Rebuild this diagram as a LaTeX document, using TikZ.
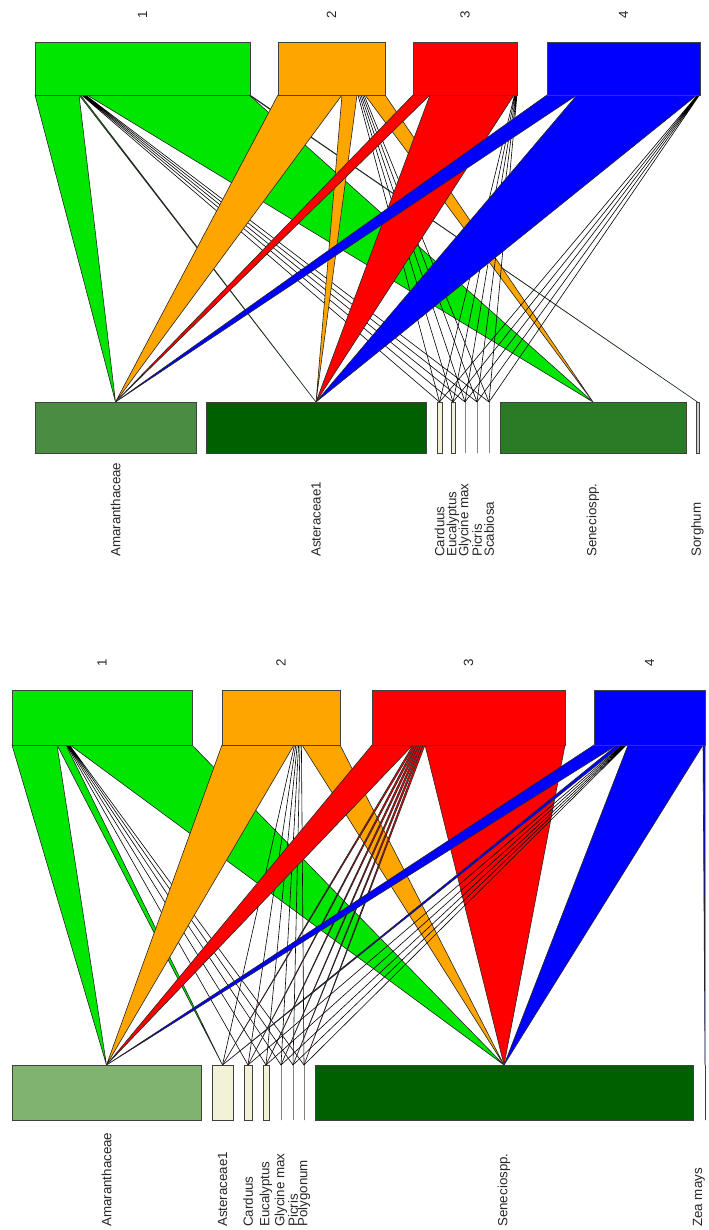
\documentclass[tikz,border=0pt]{standalone}
\usepackage{fontspec}
\setmainfont{Liberation Sans}
\usetikzlibrary{positioning,calc,backgrounds}

\definecolor{lgreen}{RGB}{0,230,0}
\definecolor{lorange}{RGB}{255,165,0}
\definecolor{lred}{RGB}{255,0,0}
\definecolor{lblue}{RGB}{0,0,255}
\definecolor{amarA}{RGB}{74,140,66}
\definecolor{asterA}{RGB}{0,96,0}
\definecolor{senA}{RGB}{42,122,38}
\definecolor{amarB}{RGB}{128,178,112}
\definecolor{paleB}{RGB}{242,242,214}
\definecolor{senB}{RGB}{0,96,0}

\tikzset{
    boxline/.style={draw=black!75, line width=0.5pt},
    band/.style={draw=black!85, line width=0.45pt},
    wire/.style={draw=black, line width=0.45pt},
    lab/.style={font=\fontsize{10}{12}\selectfont, text=black!85, inner sep=0pt, rotate=90},
}

\newcommand{\webbox}[6]{%
    \filldraw[boxline, fill=#6] (#2,#4) rectangle (#3,#5);
    \coordinate (#1) at ({(#2+#3)/2},#4);}
\newcommand{\weblink}[5]{%
    \filldraw[band, fill=#1] (#2,#4) -- (#3,#4) -- (#5) -- cycle;}

\begin{document}
\begin{tikzpicture}[x=0.75pt,y=-0.75pt]
    \useasboundingbox (0,0) rectangle (708,1230);

    \webbox{uA}{35}{250}{42}{95}{lgreen}
    \webbox{uB}{278}{385}{42}{95}{lorange}
    \webbox{uC}{413}{517}{42}{95}{lred}
    \webbox{uD}{547}{700}{42}{95}{lblue}

    \webbox{tAmar}{35}{196}{402}{453}{amarA}
    \webbox{tAster}{206}{426}{402}{453}{asterA}
    \webbox{tCard}{437}{442}{402}{453}{paleB}
    \webbox{tEuc}{451}{455}{402}{453}{paleB}
    \webbox{tGly}{465}{465}{402}{453}{paleB}
    \webbox{tPic}{477}{477}{402}{453}{paleB}
    \webbox{tScab}{489}{489}{402}{453}{paleB}
    \webbox{tSen}{500}{686}{402}{453}{senA}
    \webbox{tSorg}{696}{699}{402}{453}{gray!40}

    \webbox{vA}{12}{192}{690}{745}{lgreen}
    \webbox{vB}{222}{340}{690}{745}{lorange}
    \webbox{vC}{372}{565}{690}{745}{lred}
    \webbox{vD}{594}{705}{690}{745}{lblue}

    \webbox{bAmar}{12}{201}{1065}{1120}{amarB}
    \webbox{bAster}{212}{233}{1065}{1120}{paleB}
    \webbox{bCard}{244}{252}{1065}{1120}{paleB}
    \webbox{bEuc}{263}{269}{1065}{1120}{paleB}
    \webbox{bGly}{281}{281}{1065}{1120}{paleB}
    \webbox{bPic}{293}{293}{1065}{1120}{paleB}
    \webbox{bPoly}{304}{304}{1065}{1120}{paleB}
    \webbox{bSen}{315}{693}{1065}{1120}{senB}
    \webbox{bZea}{705}{705}{1065}{1120}{paleB}

    \node[lab] (nA) at (142.5,15) {1};
    \node[lab] (nB) at (331.5,15) {2};
    \node[lab] (nC) at (465,15) {3};
    \node[lab] (nD) at (623.5,15) {4};
    \node[lab] (mA) at (102,663) {1};
    \node[lab] (mB) at (281,663) {2};
    \node[lab] (mC) at (468.5,663) {3};
    \node[lab] (mD) at (649.5,663) {4};

    \coordinate (tbase) at (0,557);
    \coordinate (bbase) at (0,1227);
    \node[lab, anchor=west] (lAmar) at (tAmar |- tbase) {Amaranthaceae};
    \node[lab, anchor=west] (lAster) at (tAster |- tbase) {Asteraceae1};
    \node[lab, anchor=west] (lCard) at (tCard |- tbase) {Carduus};
    \node[lab, anchor=west] (lEuc) at (tEuc |- tbase) {Eucalyptus};
    \node[lab, anchor=west] (lGly) at (tGly |- tbase) {Glycine max};
    \node[lab, anchor=west] (lPic) at (tPic |- tbase) {Picris};
    \node[lab, anchor=west] (lScab) at (tScab |- tbase) {Scabiosa};
    \node[lab, anchor=west] (lSen) at (tSen |- tbase) {Seneciospp.};
    \node[lab, anchor=west] (lSorg) at (tSorg |- tbase) {Sorghum};

    \node[lab, anchor=west] (kAmar) at (bAmar |- bbase) {Amaranthaceae};
    \node[lab, anchor=west] (kAster) at (bAster |- bbase) {Asteraceae1};
    \node[lab, anchor=west] (kCard) at (bCard |- bbase) {Carduus};
    \node[lab, anchor=west] (kEuc) at (bEuc |- bbase) {Eucalyptus};
    \node[lab, anchor=west] (kGly) at (bGly |- bbase) {Glycine max};
    \node[lab, anchor=west] (kPic) at (bPic |- bbase) {Picris};
    \node[lab, anchor=west] (kPoly) at (bPoly |- bbase) {Polygonum};
    \node[lab, anchor=west] (kSen) at (bSen |- bbase) {Seneciospp.};
    \node[lab, anchor=west] (kZea) at ($(bZea |- bbase)+(-6,0)$) {Zea mays};

    \begin{scope}[on background layer]
        \weblink{lgreen}{35}{79}{95}{tAmar}
        \weblink{lgreen}{79}{80.5}{95}{tAster}
        \draw[wire] (81.5,95) -- (tCard) (82.5,95) -- (tEuc) (83.5,95) -- (tGly) (84.5,95) -- (tPic) (85.5,95) -- (tScab);
        \weblink{lgreen}{87}{249}{95}{tSen}
        \weblink{lgreen}{249}{250}{95}{tSorg}

        \weblink{lorange}{278}{342}{95}{tAmar}
        \weblink{lorange}{342}{357}{95}{tAster}
        \draw[wire] (358,95) -- (tCard) (359.5,95) -- (tEuc) (361,95) -- (tGly) (362.5,95) -- (tPic) (364,95) -- (tScab);
        \weblink{lorange}{365}{385}{95}{tSen}

        \weblink{lred}{413}{430}{95}{tAmar}
        \weblink{lred}{430}{514}{95}{tAster}
        \draw[wire] (514.5,95) -- (tCard) (515.2,95) -- (tEuc) (516,95) -- (tGly) (516.6,95) -- (tPic) (517,95) -- (tScab);

        \weblink{lblue}{547}{577}{95}{tAmar}
        \weblink{lblue}{577}{697}{95}{tAster}
        \draw[wire] (697.5,95) -- (tCard) (698,95) -- (tEuc) (698.5,95) -- (tGly) (699,95) -- (tPic) (699.5,95) -- (tScab);

        \weblink{lgreen}{12}{57}{745}{bAmar}
        \weblink{lgreen}{57}{66}{745}{bAster}
        \draw[wire] (66.5,745) -- (bCard) (67.3,745) -- (bEuc) (68,745) -- (bGly) (68.8,745) -- (bPic) (69.5,745) -- (bPoly);
        \weblink{lgreen}{70}{192}{745}{bSen}

        \weblink{lorange}{222}{294}{745}{bAmar}
        \draw[wire] (294.5,745) -- (bAster) (295.8,745) -- (bCard) (297.2,745) -- (bEuc) (298.6,745) -- (bGly) (300,745) -- (bPic) (301.4,745) -- (bPoly);
        \weblink{lorange}{302}{340}{745}{bSen}

        \weblink{lred}{372}{413}{745}{bAmar}
        \weblink{lred}{413}{415}{745}{bAster}
        \weblink{lred}{415}{417}{745}{bCard}
        \weblink{lred}{417}{419}{745}{bEuc}
        \weblink{lred}{419}{421}{745}{bGly}
        \weblink{lred}{421}{423}{745}{bPic}
        \weblink{lred}{423}{425}{745}{bPoly}
        \weblink{lred}{425}{565}{745}{bSen}

        \weblink{lblue}{594}{617}{745}{bAmar}
        \weblink{lblue}{617}{622}{745}{bAster}
        \draw[wire] (622.5,745) -- (bCard) (623.5,745) -- (bEuc) (624.5,745) -- (bGly) (625.5,745) -- (bPic) (626.5,745) -- (bPoly);
        \weblink{lblue}{628}{703}{745}{bSen}
        \weblink{lblue}{703}{705}{745}{bZea}
    \end{scope}
\end{tikzpicture}
\end{document}
